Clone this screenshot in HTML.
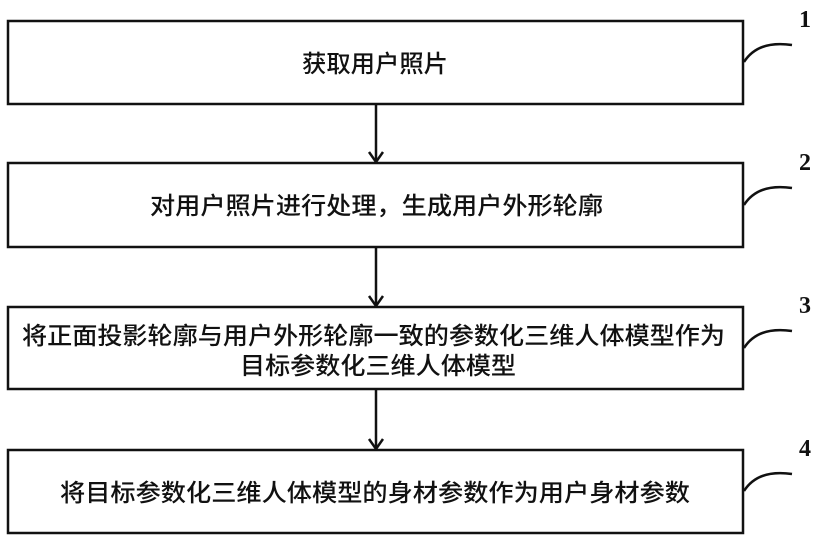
<!DOCTYPE html>
<html><head><meta charset="utf-8"><style>
html,body{margin:0;padding:0;background:#fff;}
svg{display:block;}
text{font-family:"Liberation Sans","Noto Sans CJK SC",sans-serif;font-size:24px;font-weight:500;fill:#111;}
.n{font-family:"Liberation Serif",serif;font-size:24px;font-weight:bold;}
</style></head><body>
<svg width="820" height="542" viewBox="0 0 820 542" xmlns="http://www.w3.org/2000/svg">
<g fill="none" stroke="#111" stroke-width="2.5">
<rect x="8" y="21" width="735" height="83"/>
<rect x="8" y="163" width="735" height="84"/>
<rect x="8" y="307" width="735" height="82"/>
<rect x="8" y="450" width="735" height="83"/>
<line x1="376" y1="104" x2="376" y2="162"/>
<line x1="376" y1="247" x2="376" y2="306"/>
<line x1="376" y1="389" x2="376" y2="449"/>
<polyline points="369,152 376,162 383,152"/>
<polyline points="369,296 376,306 383,296"/>
<polyline points="369,439 376,449 383,439"/>
<path d="M744,62 Q758,40 792,45"/>
<path d="M744,205 Q758,183 792,188"/>
<path d="M744,348 Q758,326 792,331"/>
<path d="M744,491 Q758,469 792,474"/>
</g>
<text x="302" y="72" textLength="146" lengthAdjust="spacingAndGlyphs">获取用户照片</text>
<text x="150" y="214" textLength="453" lengthAdjust="spacingAndGlyphs">对用户照片进行处理，生成用户外形轮廓</text>
<text x="22" y="344" textLength="703" lengthAdjust="spacingAndGlyphs">将正面投影轮廓与用户外形轮廓一致的参数化三维人体模型作为</text>
<text x="240" y="374" textLength="276" lengthAdjust="spacingAndGlyphs">目标参数化三维人体模型</text>
<text x="60" y="501" textLength="630" lengthAdjust="spacingAndGlyphs">将目标参数化三维人体模型的身材参数作为用户身材参数</text>
<text class="n" x="799" y="27">1</text>
<text class="n" x="799" y="170">2</text>
<text class="n" x="799" y="313">3</text>
<text class="n" x="799" y="456">4</text>
</svg>
</body></html>
